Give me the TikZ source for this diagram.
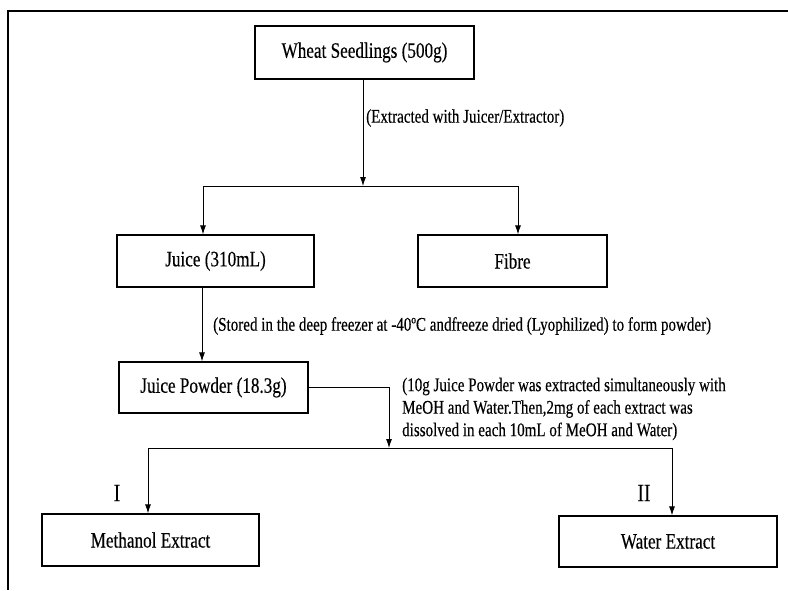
\documentclass[tikz,border=0pt]{standalone}
\usepackage{fontspec}
\setmainfont[FakeStretch=0.78,FakeBold=0.3]{Liberation Serif}
\usetikzlibrary{arrows.meta}
\begin{document}
\begin{tikzpicture}[x=1pt,y=-1pt,
  box/.style={draw,line width=1.3pt,inner sep=0pt,font=\fontsize{22}{26}\selectfont},
  lbl/.style={inner sep=0pt,font=\fontsize{19.3}{22.5}\selectfont,align=left},
  num/.style={inner sep=0pt,font=\fontsize{25}{28}\selectfont},
  arr/.style={line width=0.8pt,-{Latex[length=9pt,width=6pt]}},
  ln/.style={line width=0.8pt}]
\useasboundingbox (0,0) rectangle (788,590);
\draw[line width=2pt] (8,590) -- (8,11) -- (788,11);
% boxes
\node[box,minimum width=219pt,minimum height=53pt] (wheat) at (364.5,52.5) {Wheat Seedlings (500g)};
\node[box,minimum width=197pt,minimum height=52pt] (juice) at (215.5,261) {Juice (310mL)};
\node[box,minimum width=189pt,minimum height=52pt] (fibre) at (512.5,261) {Fibre};
\node[box,minimum width=189pt,minimum height=51pt] (powder) at (213.5,387.5) {Juice Powder (18.3g)};
\node[box,minimum width=217pt,minimum height=52pt] (meth) at (150.5,540) {Methanol Extract};
\node[box,minimum width=218pt,minimum height=51pt] (water) at (668,541.5) {Water Extract};
% coordinates
\coordinate (s1) at (363,186);
\coordinate (sL) at (203,186);
\coordinate (sR) at (518,186);
\coordinate (jx) at (202,0);
\coordinate (s2) at (389,448);
\coordinate (mL) at (148,448);
\coordinate (mR) at (672,448);
% connectors
\draw[arr] (s1 |- wheat.south) -- (s1);
\draw[ln] (sL) -- (sR);
\draw[arr] (sL) -- (sL |- juice.north);
\draw[arr] (sR) -- (sR |- fibre.north);
\draw[arr] (jx |- juice.south) -- (jx |- powder.north);
\draw[arr] (powder.east) -| (s2);
\draw[ln] (mL) -- (mR);
\draw[arr] (mL) -- (mL |- meth.north);
\draw[arr] (mR) -- (mR |- water.north);
% labels
\node[lbl,anchor=west] (l1) at (366,118) {(Extracted with Juicer/Extractor)};
\node[lbl,anchor=west] (l2) at (213,326) {(Stored in the deep freezer at -40ºC andfreeze dried (Lyophilized) to form powder)};
\node[lbl,anchor=west] (l3) at (402,409) {(10g Juice Powder was extracted simultaneously with\\MeOH and Water.Then,2mg of each extract was\\dissolved in each 10mL of MeOH and Water)};
\node[num] (n1) at (117,493) {I};
\node[num] (n2) at (644,493) {II};
\end{tikzpicture}
\end{document}
